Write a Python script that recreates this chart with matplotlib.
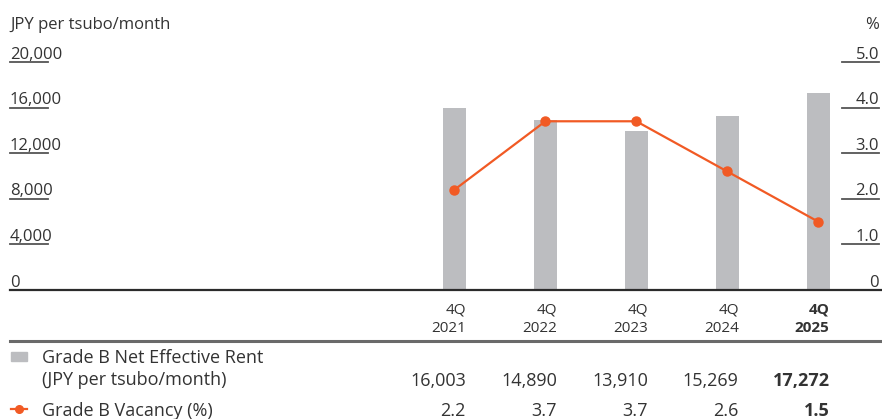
import matplotlib.pyplot as plt
from matplotlib import transforms
from matplotlib.lines import Line2D
from matplotlib.patches import Rectangle

quarters = ['2021', '2022', '2023', '2024', '2025']
rent = [16003, 14890, 13910, 15269, 17272]
vacancy = [2.2, 3.7, 3.7, 2.6, 1.5]
rent_ticks = [0, 4000, 8000, 12000, 16000, 20000]
vacancy_ticks = [0, 1.0, 2.0, 3.0, 4.0, 5.0]

plt.rcParams['font.family'] = ['Open Sans', 'DejaVu Sans']

W, H = 882, 419
TEXT = '#333333'
GREY = '#bcbdc0'
ORANGE = '#f15a24'


def fx(x):
    return x / W


def fy(y):
    return 1 - y / H


fig = plt.figure(figsize=(W / 100, H / 100), dpi=100)

# plot area: 10..882 px across, 62..290 px down
ax = fig.add_axes([fx(10), fy(290), 1 - fx(10), (290 - 62) / H])
ax2 = ax.twinx()

step = 90.9
first = 454.5
xs = list(range(len(rent)))
bar_w = 23 / step
ax.set_xlim((10 - first) / step, (882 - first) / step)
ax.set_ylim(0, 20000)
ax2.set_ylim(0, 5)

ax.bar(xs, rent, width=bar_w, color=GREY, zorder=1)
ax2.plot(xs, vacancy, color=ORANGE, lw=1.6, marker='o', ms=6.5, zorder=3)

for a in (ax, ax2):
    for s in a.spines.values():
        s.set_visible(False)
    a.set_xticks([])
    a.set_yticks([])

ax.axhline(0, color='#2b2b2b', lw=1.6, zorder=4, clip_on=False)

# left scale: short underline below each label
ltr = ax.get_yaxis_transform()
lab_l = transforms.offset_copy(ltr, fig=fig, x=0, y=3.5, units='dots')
for v in rent_ticks:
    if v:
        ax.plot([0, 38 / 872], [v, v], color='#555555', lw=1.3,
                transform=ltr, clip_on=False)
    ax.text(0, v, f'{v:,}', transform=lab_l, ha='left', va='baseline',
            fontsize=12, color=TEXT)

# right scale
rtr = ax2.get_yaxis_transform()
lab_r = transforms.offset_copy(rtr, fig=fig, x=0, y=3.5, units='dots')
for v in vacancy_ticks:
    if v:
        ax2.plot([(842 - 10) / 872, (879 - 10) / 872], [v, v], color='#555555',
                 lw=1.3, transform=rtr, clip_on=False)
    label = f'{v:.1f}' if v else '0'
    ax2.text((879 - 10) / 872, v, label, transform=lab_r, ha='right',
             va='baseline', fontsize=12, color=TEXT)

fig.text(fx(10), fy(25), 'JPY per tsubo/month', ha='left', va='center',
         fontsize=12, color=TEXT)
fig.text(fx(879), fy(25), '%', ha='right', va='center', fontsize=12, color=TEXT)

# table under the chart
bt = transforms.blended_transform_factory(ax.transData, fig.transFigure)
for i, q in enumerate(quarters):
    w = 'bold' if i == len(quarters) - 1 else 'normal'
    xr = i + bar_w / 2
    fig.text(xr, fy(313), '4Q', transform=bt, ha='right', va='baseline',
             fontsize=11, color=TEXT, fontweight=w)
    fig.text(xr, fy(332), q, transform=bt, ha='right', va='baseline',
             fontsize=11, color=TEXT, fontweight=w)
    fig.text(xr, fy(386), f'{rent[i]:,}', transform=bt, ha='right',
             va='baseline', fontsize=13, color=TEXT, fontweight=w)
    fig.text(xr, fy(416), f'{vacancy[i]:.1f}', transform=bt, ha='right',
             va='baseline', fontsize=13, color=TEXT, fontweight=w)

fig.add_artist(Line2D([fx(10), 1], [fy(341), fy(341)], color='#6a6a6a', lw=2.2,
                      transform=fig.transFigure))

# legend rows
fig.add_artist(Rectangle((fx(11), fy(361)), 16 / W, 9 / H, color=GREY,
                         transform=fig.transFigure))
fig.add_artist(Line2D([fx(11), fx(27)], [fy(409), fy(409)], color=ORANGE,
                      lw=1.6, transform=fig.transFigure))
fig.add_artist(Line2D([fx(19)], [fy(409)], color=ORANGE, marker='o', ms=5.5,
                      transform=fig.transFigure))
fig.text(fx(42), fy(363), 'Grade B Net Effective Rent', ha='left',
         va='baseline', fontsize=13, color=TEXT)
fig.text(fx(42), fy(385), '(JPY per tsubo/month)', ha='left', va='baseline',
         fontsize=13, color=TEXT)
fig.text(fx(42), fy(416), 'Grade B Vacancy (%)', ha='left', va='baseline',
         fontsize=13, color=TEXT)

fig.savefig('out.png', dpi=100)
